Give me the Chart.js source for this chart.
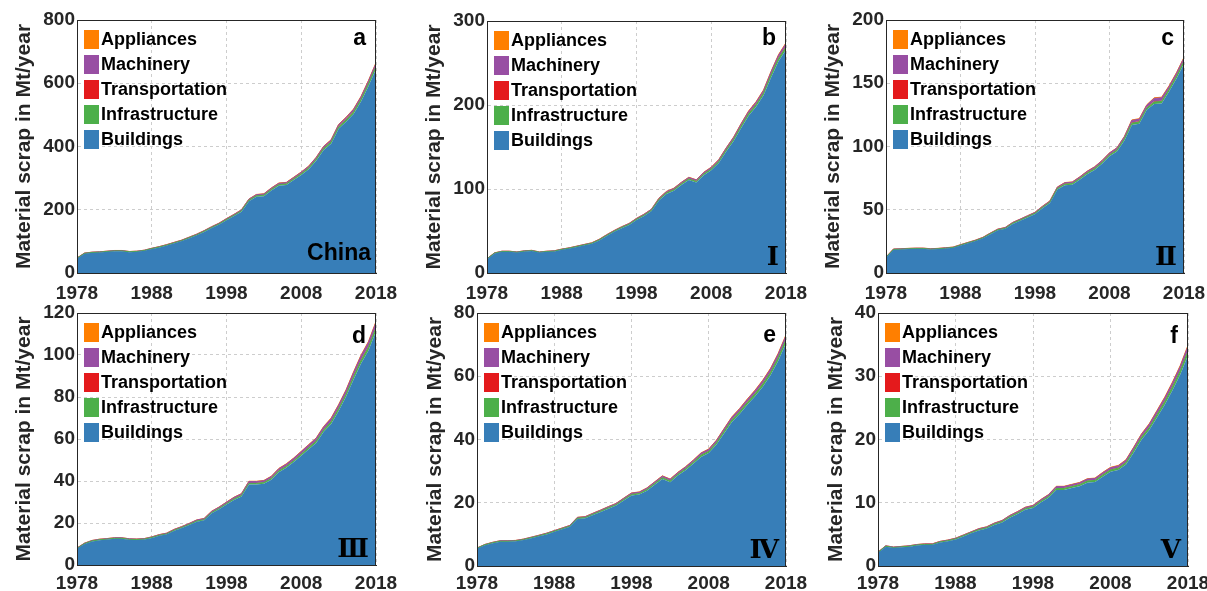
<!DOCTYPE html>
<html>
<head>
<meta charset="utf-8">
<script src="https://cdn.jsdelivr.net/npm/chart.js@4.4.1/dist/chart.umd.min.js"></script>
<style>
  html, body { margin: 0; padding: 0; background: #fff; }
  body { width: 1207px; height: 591px; position: relative; overflow: hidden; }
  canvas { position: absolute; }
</style>
</head>
<body>
<canvas id="pa"></canvas>
<canvas id="pb"></canvas>
<canvas id="pc"></canvas>
<canvas id="pd"></canvas>
<canvas id="pe"></canvas>
<canvas id="pf"></canvas>
<script>
// years and x tick labels
const years = [1978,1979,1980,1981,1982,1983,1984,1985,1986,1987,1988,1989,1990,1991,1992,1993,1994,1995,1996,1997,1998,1999,2000,2001,2002,2003,2004,2005,2006,2007,2008,2009,2010,2011,2012,2013,2014,2015,2016,2017,2018];
const xTicks = [1978, 1988, 1998, 2008, 2018];
const seriesNames = ['Buildings', 'Infrastructure', 'Transportation', 'Machinery', 'Appliances'];
const seriesColors = ['#377eb8', '#4daf4a', '#e41a1c', '#984ea3', '#ff7f00'];
const seriesEdges = [0, 1, 0, 1, 1];

// a - China
const chinaBld = [46,61,64,65,67,69,69,66,67,70,76,81,87,94,101,110,119,130,142,153,167,180,194,227,241,243,261,276,278,294,310,328,355,389,409,456,478,503,542,591,645];
const chinaInf = [0.6,0.8,0.8,0.8,0.8,0.9,0.9,0.8,0.8,0.9,0.9,1.0,1.1,1.2,1.2,1.4,1.5,1.6,1.8,1.9,2.1,2.2,2.4,2.8,3.0,3.0,3.2,3.4,3.4,3.6,3.8,4.1,4.4,4.8,5.1,5.6,5.9,6.2,6.7,7.3,8.0];
const chinaTra = [0.2,0.3,0.3,0.3,0.3,0.3,0.3,0.3,0.3,0.3,0.3,0.3,0.4,0.4,0.4,0.5,0.5,0.5,0.6,0.6,0.7,0.7,0.8,0.9,1.0,1.0,1.1,1.1,1.1,1.2,1.3,1.4,1.5,1.6,1.7,1.9,2.0,2.1,2.2,2.4,2.7];
const chinaMac = [0.5,0.7,0.7,0.7,0.8,0.8,0.8,0.7,0.8,0.8,0.9,0.9,1.0,1.1,1.1,1.2,1.4,1.5,1.6,1.7,1.9,2.0,2.2,2.6,2.7,2.8,3.0,3.1,3.2,3.3,3.5,3.7,4.0,4.4,4.6,5.2,5.4,5.7,6.1,6.7,7.3];
const chinaApp = [0.1,0.2,0.2,0.2,0.2,0.2,0.2,0.2,0.2,0.2,0.2,0.3,0.3,0.3,0.3,0.3,0.4,0.4,0.4,0.5,0.5,0.6,0.6,0.7,0.7,0.8,0.8,0.9,0.9,0.9,1.0,1.0,1.1,1.2,1.3,1.4,1.5,1.6,1.7,1.8,2.0];

// b - region I
const r1Bld = [16.5,23.3,25.2,25.2,24.3,25.7,26.2,24.3,25.2,25.7,27.6,29.1,31.0,33.0,34.9,38.8,44.1,49.0,53.4,57.2,63.1,67.9,73.7,86.3,94.1,98.0,104.8,110.6,107.7,116.4,122.2,131.0,144.5,157.1,172.7,187.2,197.9,211.5,232.8,252.2,265.8];
const r1Inf = [0.2,0.3,0.3,0.3,0.3,0.3,0.3,0.3,0.3,0.3,0.4,0.4,0.4,0.4,0.4,0.5,0.6,0.6,0.7,0.7,0.8,0.8,0.9,1.1,1.2,1.2,1.3,1.4,1.3,1.4,1.5,1.6,1.8,2.0,2.1,2.3,2.4,2.6,2.9,3.1,3.3];
const r1Tra = [0.1,0.1,0.1,0.1,0.1,0.1,0.1,0.1,0.1,0.1,0.1,0.1,0.1,0.1,0.1,0.2,0.2,0.2,0.2,0.2,0.3,0.3,0.3,0.4,0.4,0.4,0.4,0.4,0.4,0.5,0.5,0.5,0.6,0.6,0.7,0.8,0.8,0.8,0.9,1.0,1.1];
const r1Mac = [0.2,0.2,0.3,0.3,0.3,0.3,0.3,0.3,0.3,0.3,0.3,0.3,0.4,0.4,0.4,0.4,0.5,0.6,0.6,0.7,0.7,0.8,0.9,1.0,1.1,1.1,1.2,1.3,1.3,1.3,1.4,1.5,1.7,1.8,2.0,2.1,2.3,2.4,2.7,2.9,3.0];
const r1App = [0.05,0.1,0.1,0.1,0.1,0.1,0.1,0.1,0.1,0.1,0.1,0.1,0.1,0.1,0.2,0.2,0.2,0.2,0.2,0.2,0.2,0.2,0.2,0.3,0.3,0.3,0.3,0.3,0.3,0.4,0.4,0.4,0.4,0.5,0.5,0.6,0.6,0.7,0.7,0.8,0.8];

// c - region II
const r2Bld = [12.2,18.4,18.6,18.9,19.1,19.1,18.6,18.9,19.4,19.9,21.7,23.5,25.2,27.4,30.7,33.7,34.9,38.8,41.3,43.9,46.6,51.2,55.3,66.0,69.4,69.8,73.7,78.1,81.5,86.3,92.2,96.0,104.8,117.0,118.0,129.0,133.5,134.0,143.5,153.7,165.4];
const r2Inf = [0.2,0.2,0.2,0.2,0.2,0.2,0.2,0.2,0.2,0.2,0.3,0.3,0.3,0.3,0.4,0.4,0.4,0.5,0.5,0.6,0.6,0.6,0.7,0.8,0.8,0.9,0.9,1.0,1.0,1.1,1.1,1.2,1.3,1.4,1.4,1.4,1.6,1.6,1.7,1.8,2.0];
const r2Tra = [0.0,0.1,0.1,0.1,0.1,0.1,0.1,0.1,0.1,0.1,0.1,0.1,0.1,0.1,0.1,0.1,0.2,0.2,0.2,0.2,0.2,0.2,0.2,0.3,0.3,0.3,0.3,0.3,0.3,0.4,0.4,0.4,0.4,0.5,0.5,0.5,0.6,0.6,0.5,0.6,0.6];
const r2Mac = [0.2,0.2,0.2,0.2,0.2,0.2,0.2,0.2,0.2,0.2,0.2,0.2,0.3,0.3,0.3,0.4,0.4,0.4,0.5,0.5,0.5,0.6,0.6,0.7,0.8,0.8,0.9,0.9,1.0,1.0,1.1,1.2,1.2,1.7,1.7,1.7,2.3,2.3,1.8,1.9,2.0];
const r2App = [0.0,0.1,0.1,0.1,0.1,0.1,0.1,0.1,0.1,0.1,0.1,0.1,0.1,0.1,0.1,0.1,0.1,0.1,0.1,0.1,0.1,0.2,0.2,0.2,0.2,0.2,0.2,0.2,0.2,0.2,0.2,0.2,0.3,0.4,0.4,0.4,0.5,0.5,0.5,0.5,0.5];

// d - region III
const r3Bld = [7.8,10.0,11.2,11.8,12.1,12.5,12.5,12.0,11.9,12.1,12.9,13.9,14.6,16.3,17.6,19.0,20.6,21.3,24.6,26.5,28.8,31.0,32.6,38.3,38.3,38.7,40.6,44.2,46.3,49.0,52.0,55.1,58.1,63.4,67.2,73.3,80.2,88.3,96.0,102.2,111.4];
const r3Inf = [0.1,0.15,0.2,0.2,0.2,0.2,0.2,0.2,0.2,0.2,0.2,0.2,0.2,0.25,0.25,0.3,0.3,0.3,0.35,0.4,0.4,0.45,0.5,0.55,0.55,0.55,0.6,0.65,0.65,0.7,0.75,0.8,0.85,0.9,1.0,1.1,1.15,1.3,1.4,1.5,1.6];
const r3Tra = [0.03,0.04,0.05,0.05,0.05,0.05,0.05,0.05,0.05,0.05,0.05,0.06,0.06,0.07,0.07,0.08,0.09,0.09,0.1,0.11,0.12,0.13,0.14,0.16,0.16,0.16,0.17,0.18,0.19,0.2,0.22,0.23,0.24,0.26,0.28,0.31,0.33,0.37,0.4,0.43,0.46];
const r3Mac = [0.14,0.18,0.2,0.2,0.2,0.2,0.2,0.2,0.2,0.2,0.2,0.27,0.27,0.31,0.31,0.36,0.4,0.4,0.45,0.5,0.54,0.58,0.63,0.72,0.72,0.72,0.76,0.81,0.86,0.9,1.0,1.03,1.08,1.17,1.26,1.4,1.5,1.66,1.8,1.94,2.07];
const r3App = [0.03,0.04,0.04,0.05,0.05,0.05,0.05,0.05,0.05,0.05,0.05,0.05,0.06,0.07,0.07,0.07,0.08,0.09,0.1,0.1,0.11,0.12,0.13,0.15,0.15,0.16,0.16,0.17,0.18,0.19,0.2,0.22,0.23,0.25,0.27,0.29,0.32,0.35,0.38,0.41,0.44];

// e - region IV
const r4Bld = [5.5,6.6,7.2,7.7,7.7,7.8,8.2,8.8,9.4,10.0,10.8,11.6,12.4,14.9,15.1,16.1,17.1,18.1,19.1,20.7,22.3,22.6,23.8,25.7,27.5,26.5,28.6,30.3,32.3,34.5,35.7,38.4,42.0,45.5,48.1,51.0,53.7,56.7,60.3,64.9,70.5];
const r4Inf = [0.08,0.08,0.12,0.12,0.12,0.12,0.12,0.12,0.12,0.16,0.16,0.16,0.16,0.2,0.2,0.24,0.24,0.28,0.28,0.32,0.32,0.32,0.36,0.36,0.4,0.4,0.4,0.44,0.48,0.52,0.52,0.56,0.6,0.68,0.68,0.72,0.76,0.84,0.88,0.96,1.04];
const r4Tra = [0.02,0.02,0.03,0.03,0.03,0.03,0.03,0.03,0.03,0.04,0.04,0.04,0.04,0.05,0.05,0.06,0.06,0.07,0.07,0.08,0.08,0.08,0.09,0.09,0.1,0.1,0.1,0.11,0.12,0.13,0.13,0.14,0.15,0.17,0.17,0.18,0.19,0.21,0.22,0.24,0.26];
const r4Mac = [0.07,0.09,0.11,0.12,0.12,0.12,0.13,0.13,0.14,0.15,0.16,0.17,0.18,0.21,0.22,0.23,0.25,0.27,0.28,0.31,0.33,0.34,0.36,0.38,0.41,0.4,0.42,0.45,0.48,0.51,0.53,0.57,0.62,0.67,0.71,0.75,0.79,0.84,0.89,0.96,1.04];
const r4App = [0.02,0.02,0.03,0.03,0.03,0.03,0.03,0.03,0.04,0.04,0.04,0.04,0.05,0.05,0.05,0.06,0.06,0.07,0.07,0.07,0.08,0.08,0.09,0.1,0.1,0.1,0.1,0.11,0.12,0.12,0.13,0.14,0.15,0.16,0.17,0.18,0.19,0.2,0.22,0.24,0.26];

// f - region V
const r5Bld = [2.1,3.06,2.87,2.96,3.06,3.25,3.34,3.34,3.72,3.92,4.2,4.68,5.16,5.63,5.92,6.49,6.88,7.64,8.21,8.88,9.17,10.03,10.79,12.03,12.03,12.32,12.61,13.18,13.27,14.13,14.9,15.18,16.04,17.95,19.96,21.49,23.49,25.5,27.79,30.27,33.33];
const r5Inf = [0.04,0.06,0.05,0.06,0.06,0.06,0.06,0.06,0.07,0.07,0.08,0.09,0.1,0.11,0.11,0.12,0.13,0.14,0.16,0.17,0.17,0.19,0.2,0.23,0.23,0.23,0.24,0.25,0.25,0.27,0.28,0.29,0.3,0.34,0.38,0.4,0.44,0.48,0.52,0.57,0.63];
const r5Tra = [0.01,0.01,0.01,0.01,0.01,0.02,0.02,0.02,0.02,0.02,0.02,0.02,0.02,0.03,0.03,0.03,0.03,0.04,0.04,0.04,0.04,0.05,0.05,0.06,0.06,0.06,0.06,0.06,0.06,0.07,0.07,0.07,0.08,0.09,0.09,0.1,0.11,0.12,0.13,0.14,0.16];
const r5Mac = [0.04,0.06,0.06,0.06,0.06,0.06,0.07,0.07,0.07,0.08,0.08,0.09,0.1,0.11,0.11,0.12,0.13,0.15,0.16,0.17,0.17,0.19,0.21,0.23,0.23,0.24,0.24,0.25,0.26,0.27,0.28,0.29,0.31,0.34,0.38,0.41,0.45,0.48,0.52,0.58,0.63];
const r5App = [0.01,0.01,0.01,0.01,0.01,0.01,0.02,0.02,0.02,0.02,0.02,0.02,0.02,0.03,0.03,0.03,0.03,0.03,0.04,0.04,0.04,0.05,0.05,0.05,0.05,0.06,0.06,0.06,0.06,0.07,0.07,0.07,0.08,0.08,0.09,0.1,0.11,0.12,0.13,0.14,0.15];

const FONT = '"Liberation Sans", Arial, sans-serif';
const ROMAN_FONT = '"DejaVu Serif", "Liberation Serif", serif';
const INK = '#262626';

// legend, panel letter, region name and the full axes box
const panelDecor = {
  id: 'panelDecor',
  afterDatasetsDraw(chart, args, opts) {
    const { ctx, chartArea: a } = chart;
    const ds = chart.data.datasets;
    ctx.save();
    ctx.strokeStyle = INK;
    ctx.lineWidth = 1;
    ctx.strokeRect(a.left + 0.5, a.top + 0.5, a.right - a.left - 1, a.bottom - a.top);

    ctx.font = 'bold 18px ' + FONT;
    ctx.textBaseline = 'middle';
    ctx.textAlign = 'left';
    for (let k = 0; k < ds.length; k++) {
      const d = ds[ds.length - 1 - k];
      const y = a.top + 10 + k * 25;
      ctx.fillStyle = d.backgroundColor;
      ctx.fillRect(a.left + 7, y, 15, 19);
      ctx.fillStyle = '#000';
      ctx.fillText(d.label, a.left + 24, y + 10);
    }

    ctx.textBaseline = 'alphabetic';
    ctx.textAlign = 'right';
    ctx.fillStyle = '#000';
    ctx.font = 'bold 23px ' + FONT;
    ctx.fillText(opts.letter, a.right - 10, a.top + opts.letterY);
    ctx.font = opts.roman ? 'bold 26px ' + ROMAN_FONT : 'bold 23px ' + FONT;
    ctx.fillText(opts.region, a.right - (opts.roman ? 7 : 5), a.bottom - (opts.roman ? 8 : 13));
    ctx.restore();
  }
};

const panels = [
  { id: 'pa', letter: 'a', region: 'China', roman: false, series: [chinaBld, chinaInf, chinaTra, chinaMac, chinaApp], yMax: 800, yStep: 200, rect: [77, 20, 376, 273], padL: 65, letterY: 25, xPad: 9 },
  { id: 'pb', letter: 'b', region: 'Ⅰ', roman: true, series: [r1Bld, r1Inf, r1Tra, r1Mac, r1App], yMax: 300, yStep: 100, rect: [487, 21, 786, 273], padL: 65, letterY: 24, xPad: 9 },
  { id: 'pc', letter: 'c', region: 'Ⅱ', roman: true, series: [r2Bld, r2Inf, r2Tra, r2Mac, r2App], yMax: 200, yStep: 50, rect: [886, 20, 1184, 273], padL: 65, letterY: 25, xPad: 9 },
  { id: 'pd', letter: 'd', region: 'Ⅲ', roman: true, series: [r3Bld, r3Inf, r3Tra, r3Mac, r3App], yMax: 120, yStep: 20, rect: [77, 313, 376, 565], padL: 65, letterY: 30, xPad: 7 },
  { id: 'pe', letter: 'e', region: 'Ⅳ', roman: true, series: [r4Bld, r4Inf, r4Tra, r4Mac, r4App], yMax: 80, yStep: 20, rect: [477, 313, 786, 566], padL: 54, letterY: 29, xPad: 6 },
  { id: 'pf', letter: 'f', region: 'Ⅴ', roman: true, series: [r5Bld, r5Inf, r5Tra, r5Mac, r5App], yMax: 40, yStep: 10, rect: [878, 313, 1188, 566], padL: 54, letterY: 30, xPad: 6 }
];

function makePanel(p) {
  const cv = document.getElementById(p.id);
  const [L, T, R, B] = p.rect;
  const padT = 14, padR = 26, padB = 36;
  cv.width = p.padL + (R - L) + padR;
  cv.height = padT + (B - T) + padB;
  cv.style.left = (L - p.padL) + 'px';
  cv.style.top = (T - padT) + 'px';

  const datasets = seriesNames.map((name, k) => ({
    label: name,
    data: years.map((yr, i) => ({ x: yr, y: p.series[k][i] })),
    backgroundColor: seriesColors[k],
    borderColor: seriesColors[k],
    borderWidth: seriesEdges[k],
    pointRadius: 0,
    tension: 0,
    fill: k === 0 ? 'origin' : '-1'
  }));

  new Chart(cv, {
    type: 'line',
    data: { datasets },
    plugins: [panelDecor],
    options: {
      responsive: false,
      animation: false,
      devicePixelRatio: 1,
      layout: { padding: { left: 0, top: padT, right: padR, bottom: 0 } },
      plugins: {
        legend: { display: false },
        tooltip: { enabled: false },
        panelDecor: { letter: p.letter, region: p.region, roman: p.roman, letterY: p.letterY }
      },
      scales: {
        x: {
          type: 'linear',
          min: 1978,
          max: 2018,
          afterBuildTicks: (s) => { s.ticks = xTicks.map(v => ({ value: v })); },
          afterFit: (s) => { s.height = padB; s.paddingLeft = 0; s.paddingRight = 0; },
          ticks: {
            callback: (v) => String(v),
            color: INK,
            font: { family: FONT, size: 19, weight: 'bold' },
            padding: p.xPad,
            maxRotation: 0,
            autoSkip: false
          },
          grid: { color: '#cdcdcd', drawTicks: false },
          border: { display: true, color: INK, dash: [3, 3] }
        },
        y: {
          stacked: true,
          min: 0,
          max: p.yMax,
          afterFit: (s) => { s.width = p.padL; s.paddingTop = 0; s.paddingBottom = 0; },
          ticks: {
            stepSize: p.yStep,
            callback: (v) => String(v),
            color: INK,
            font: { family: FONT, size: 19, weight: 'bold' },
            padding: 2
          },
          grid: { color: '#cdcdcd', drawTicks: false },
          border: { display: true, color: INK, dash: [3, 3] },
          title: {
            display: true,
            text: 'Material scrap in Mt/year',
            color: INK,
            font: { family: FONT, size: 21, weight: 'bold' },
            padding: 0
          }
        }
      }
    }
  });
}

panels.forEach(makePanel);
</script>
</body>
</html>
